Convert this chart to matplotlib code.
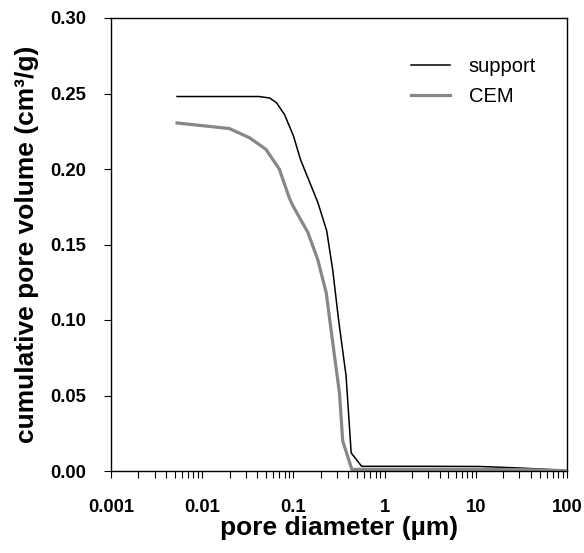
import matplotlib
matplotlib.use("Agg")
import matplotlib.pyplot as plt
import numpy as np
from matplotlib.ticker import LogLocator, FixedLocator, NullFormatter

plt.rcParams['font.family'] = ['Liberation Sans', 'DejaVu Sans']

support_d = [0.0053, 0.02, 0.042, 0.055, 0.065, 0.08, 0.1, 0.12, 0.185, 0.232, 0.27,
             0.313, 0.378, 0.43, 0.56, 1.0, 3.0, 11.0, 30.0, 60.0, 95.0]
support_v = [0.248, 0.248, 0.248, 0.247, 0.244, 0.236, 0.222, 0.206, 0.178, 0.159, 0.133,
             0.100, 0.063, 0.012, 0.0031, 0.0031, 0.0031, 0.0030, 0.0020, 0.0011, 0.0003]

cem_d = [0.0053, 0.0198, 0.0328, 0.05, 0.07, 0.09, 0.098, 0.144, 0.185, 0.229, 0.27,
         0.32, 0.347, 0.437, 1.0, 10.0, 30.0, 60.0, 95.0]
cem_v = [0.2305, 0.2268, 0.2208, 0.213, 0.200, 0.181, 0.176, 0.158, 0.140, 0.118, 0.085,
         0.0516, 0.020, 0.0011, 0.0011, 0.0011, 0.0009, 0.0006, 0.0002]

x_ticks = [0.001, 0.01, 0.1, 1, 10, 100]
x_tick_labels = ['0.001', '0.01', '0.1', '1', '10', '100']
y_ticks = [0.0, 0.05, 0.10, 0.15, 0.20, 0.25, 0.30]

W, H = 584, 553
fig = plt.figure(figsize=(W / 100, H / 100), dpi=100)
L, R, T, B = 111, 567, 18, 471
ax = fig.add_axes([L / W, 1 - B / H, (R - L) / W, (B - T) / H])

ax.plot(support_d, support_v, color='black', lw=1.1, label='support')
ax.plot(cem_d, cem_v, color='#878787', lw=2.3, label='CEM')

ax.set_xscale('log')
ax.set_xlim(0.001, 100)
ax.set_ylim(0, 0.30)
ax.xaxis.set_major_locator(FixedLocator(x_ticks))
ax.set_xticklabels(x_tick_labels)
ax.xaxis.set_minor_locator(LogLocator(base=10, subs=np.arange(2, 10)))
ax.xaxis.set_minor_formatter(NullFormatter())
ax.set_yticks(y_ticks)
ax.set_yticklabels(['%.2f' % v for v in y_ticks])

for lab in ax.get_xticklabels() + ax.get_yticklabels():
    lab.set_fontweight('bold')
    lab.set_fontsize(13.3)
ax.tick_params(axis='x', which='both', direction='out', length=5, width=0.8, pad=15)
ax.tick_params(axis='y', which='major', direction='out', length=5, width=0.8, pad=13)

for s in ax.spines.values():
    s.set_linewidth(1.0)

ax.set_xlabel('pore diameter (µm)', fontsize=19, fontweight='bold', labelpad=0)
ax.set_ylabel('cumulative pore volume (cm³/g)', fontsize=19, fontweight='bold', labelpad=8)

leg = ax.legend(loc='upper left', frameon=False, fontsize=14.5, handlelength=1.93,
                handletextpad=0.95, labelspacing=0.55, borderpad=0, borderaxespad=0,
                bbox_to_anchor=((410.7 - L) / (R - L), (B - 57) / (B - T)))

fig.savefig('out.png', dpi=100)
